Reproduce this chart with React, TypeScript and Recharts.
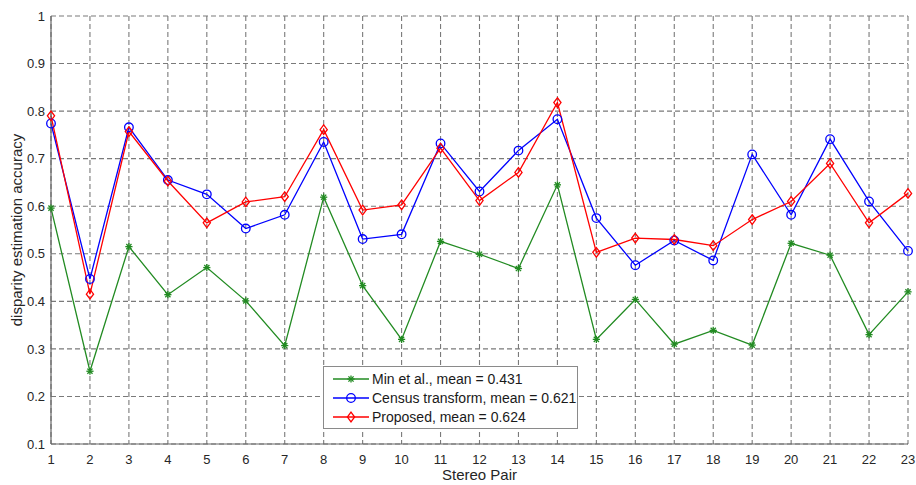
import React from 'react';
import { LineChart, Line, XAxis, YAxis, CartesianGrid, Legend } from 'recharts';

const pairs = [1, 2, 3, 4, 5, 6, 7, 8, 9, 10, 11, 12, 13, 14, 15, 16, 17, 18, 19, 20, 21, 22, 23];

const minEtAl = [
  0.596, 0.253, 0.515, 0.414, 0.471, 0.401, 0.307, 0.619, 0.433, 0.32, 0.526, 0.499,
  0.469, 0.645, 0.32, 0.404, 0.31, 0.339, 0.308, 0.522, 0.497, 0.33, 0.42,
];
const census = [
  0.774, 0.447, 0.766, 0.655, 0.625, 0.553, 0.582, 0.735, 0.531, 0.541, 0.732, 0.631,
  0.717, 0.783, 0.575, 0.476, 0.528, 0.486, 0.709, 0.582, 0.741, 0.61, 0.506,
];
const proposed = [
  0.79, 0.415, 0.757, 0.653, 0.565, 0.609, 0.62, 0.761, 0.592, 0.603, 0.722, 0.612,
  0.671, 0.818, 0.503, 0.533, 0.53, 0.517, 0.572, 0.61, 0.69, 0.565, 0.627,
];

const yTicks = [0.1, 0.2, 0.3, 0.4, 0.5, 0.6, 0.7, 0.8, 0.9, 1];

const series = [
  { key: 'min', name: 'Min et al., mean = 0.431', color: '#228b22', marker: 'star' },
  { key: 'census', name: 'Census transform, mean = 0.621', color: '#0000ff', marker: 'circle' },
  { key: 'proposed', name: 'Proposed, mean = 0.624', color: '#ff0000', marker: 'diamond' },
];

const rows = pairs.map((p, i) => ({
  pair: p,
  min: minEtAl[i],
  census: census[i],
  proposed: proposed[i],
}));

const FONT = '"Liberation Sans", Arial, sans-serif';

function Marker({ type, cx, cy, color }: { type: string; cx: number; cy: number; color: string }) {
  if (type === 'star') {
    const r = 3.6;
    const d = r * 0.72;
    return (
      <g stroke={color} strokeWidth={1.3}>
        <line x1={cx - r} y1={cy} x2={cx + r} y2={cy} />
        <line x1={cx} y1={cy - r} x2={cx} y2={cy + r} />
        <line x1={cx - d} y1={cy - d} x2={cx + d} y2={cy + d} />
        <line x1={cx - d} y1={cy + d} x2={cx + d} y2={cy - d} />
      </g>
    );
  }
  if (type === 'circle') {
    return <circle cx={cx} cy={cy} r={4.3} fill="none" stroke={color} strokeWidth={1.3} />;
  }
  const s = 4.8;
  return (
    <polygon
      points={`${cx},${cy - s} ${cx + s * 0.75},${cy} ${cx},${cy + s} ${cx - s * 0.75},${cy}`}
      fill="none"
      stroke={color}
      strokeWidth={1.3}
    />
  );
}

function makeDot(type: string, color: string) {
  return (props: any) => {
    const { cx, cy, index } = props;
    if (cx == null || cy == null) return <g key={`${type}-${index}`} />;
    return (
      <g key={`${type}-${index}`}>
        <Marker type={type} cx={cx} cy={cy} color={color} />
      </g>
    );
  };
}

function LegendBox() {
  return (
    <div
      style={{
        background: '#fff',
        border: '1px solid #8a8a8a',
        padding: '2px 8px 2px 9px',
        fontFamily: FONT,
        fontSize: 14,
        color: '#1a1a1a',
        width: 236,
        boxSizing: 'content-box',
      }}
    >
      {series.map((s) => (
        <div key={s.key} style={{ display: 'flex', alignItems: 'center', height: 19 }}>
          <svg width={38} height={14} style={{ marginRight: 1, flex: 'none' }}>
            <line x1={0} y1={7} x2={36} y2={7} stroke={s.color} strokeWidth={1.3} />
            <Marker type={s.marker} cx={18} cy={7} color={s.color} />
          </svg>
          <span style={{ whiteSpace: 'nowrap' }}>{s.name}</span>
        </div>
      ))}
    </div>
  );
}

export default function App() {
  return (
    <div style={{ position: 'absolute', left: 0, top: 0, width: 916, height: 485, background: '#fff' }}>
      <LineChart
        width={916}
        height={485}
        data={rows}
        margin={{ top: 16, right: 8, bottom: 0, left: 0 }}
      >
        <CartesianGrid stroke="#7a7a7a" strokeDasharray="5 3" strokeWidth={1.1} />
        <XAxis
          dataKey="pair"
          type="number"
          domain={[1, 23]}
          ticks={pairs}
          interval={0}
          height={41}
          tickLine={false}
          tickSize={0}
          tickMargin={11}
          axisLine={{ stroke: '#666', strokeWidth: 1.2 }}
          tick={{ fill: '#262626', fontSize: 13, fontFamily: FONT }}
          label={{
            content: (props: any) => {
              const vb = props.viewBox || {};
              const x = (vb.x ?? 51) + (vb.width ?? 857) / 2;
              return (
                <text x={x} y={480} textAnchor="middle" fill="#262626" fontSize={15} fontFamily={FONT}>
                  Stereo Pair
                </text>
              );
            },
          }}
        />
        <YAxis
          type="number"
          domain={[0.1, 1]}
          ticks={yTicks}
          interval={0}
          width={51}
          tickLine={false}
          tickSize={0}
          tickMargin={6}
          axisLine={{ stroke: '#666', strokeWidth: 1.2 }}
          tickFormatter={(v: number) => (v === 1 ? '1' : v.toFixed(1))}
          tick={{ fill: '#262626', fontSize: 13, fontFamily: FONT }}
          label={{
            content: (props: any) => {
              const vb = props.viewBox || {};
              const x = 16;
              const y = (vb.y ?? 16) + (vb.height ?? 428) / 2;
              return (
                <text
                  x={x}
                  y={y}
                  transform={`rotate(-90 ${x} ${y})`}
                  textAnchor="middle"
                  dominantBaseline="central"
                  fill="#262626"
                  fontSize={15}
                  fontFamily={FONT}
                >
                  disparity estimation accuracy
                </text>
              );
            },
          }}
        />
        <Legend
          layout="horizontal"
          verticalAlign="middle"
          align="center"
          content={() => <LegendBox />}
          wrapperStyle={{ left: 323, top: 366, width: 'auto', height: 'auto' }}
        />
        {series.map((s) => (
          <Line
            key={s.key}
            dataKey={s.key}
            name={s.name}
            stroke={s.color}
            strokeWidth={1.3}
            type="linear"
            dot={makeDot(s.marker, s.color)}
            activeDot={false}
            isAnimationActive={false}
          />
        ))}
      </LineChart>
    </div>
  );
}
